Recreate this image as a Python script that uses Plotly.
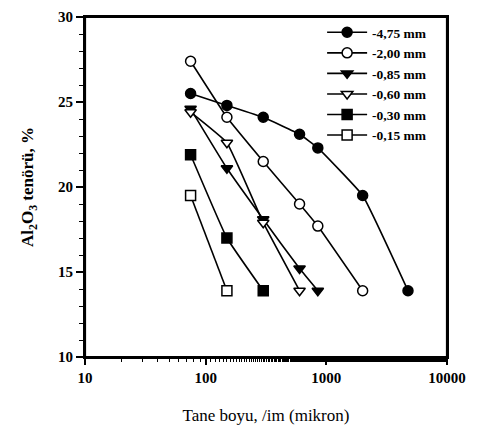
import plotly.graph_objects as go

# Data (particle size in micron, Al2O3 content in %)
sizes_475 = [75, 150, 300, 600, 850, 2000, 4750]
vals_475 = [25.5, 24.8, 24.1, 23.1, 22.3, 19.5, 13.9]

sizes_200 = [75, 150, 300, 600, 850, 2000]
vals_200 = [27.4, 24.1, 21.5, 19.0, 17.7, 13.9]

sizes_085 = [75, 150, 300, 600, 850]
vals_085 = [24.6, 21.1, 18.1, 15.2, 13.9]

sizes_060 = [75, 150, 300, 600]
vals_060 = [24.4, 22.6, 17.9, 13.9]

sizes_030 = [75, 150, 300]
vals_030 = [21.9, 17.0, 13.9]

sizes_015 = [75, 150]
vals_015 = [19.5, 13.9]

series_names = ["-4,75 mm", "-2,00 mm", "-0,85 mm", "-0,60 mm", "-0,30 mm", "-0,15 mm"]
x_tick_vals = [10, 100, 1000, 10000]
x_tick_text = ["10", "100", "1000", "10000"]
y_tick_vals = [10, 15, 20, 25, 30]

series = [
    (sizes_475, vals_475, "circle", "black"),
    (sizes_200, vals_200, "circle", "white"),
    (sizes_085, vals_085, "triangle-down", "black"),
    (sizes_060, vals_060, "triangle-down", "white"),
    (sizes_030, vals_030, "square", "black"),
    (sizes_015, vals_015, "square", "white"),
]

fig = go.Figure()
for (xs, ys, sym, fill), name in zip(series, series_names):
    fig.add_trace(go.Scatter(
        x=xs, y=ys, name=name, mode="lines+markers",
        line=dict(color="black", width=1.6, shape="spline", smoothing=0.3),
        marker=dict(symbol=sym, size=10, color=fill,
                    line=dict(color="black", width=1.5)),
    ))

frame = dict(color="black", width=2.2)
fig.update_layout(
    width=479, height=443,
    margin=dict(l=77, r=40, t=9, b=94),
    plot_bgcolor="white", paper_bgcolor="white",
    font=dict(family="Liberation Serif", color="black"),
    showlegend=True,
    legend=dict(x=0.655, y=1.0, xanchor="left", yanchor="top",
                bgcolor="rgba(0,0,0,0)", borderwidth=0,
                font=dict(family="Liberation Serif", size=13.5, color="black", weight="bold"),
                tracegroupgap=0, itemwidth=40),
    shapes=[
        dict(type="line", xref="x domain", yref="y domain", x0=0, x1=0, y0=0, y1=1, line=frame, layer="below"),
        dict(type="line", xref="x domain", yref="y domain", x0=1, x1=1, y0=0, y1=1, line=frame, layer="below"),
        dict(type="line", xref="x domain", yref="y domain", x0=0, x1=1, y0=0, y1=0, line=frame, layer="below"),
        dict(type="line", xref="x domain", yref="y domain", x0=0, x1=1, y0=1, y1=1, line=frame, layer="below"),
    ],
    xaxis=dict(
        type="log", range=[1, 4], automargin=False, layer="below traces",
        tickvals=x_tick_vals, ticktext=x_tick_text,
        ticks="outside", ticklen=6, tickwidth=1.5, tickcolor="black",
        minor=dict(ticks="outside", ticklen=3, tickwidth=1.2, tickcolor="black", showgrid=False),
        showline=True, linecolor="black", linewidth=2, mirror=True,
        showgrid=False, zeroline=False,
        tickfont=dict(family="Liberation Serif", size=15, color="black", weight="bold"),
        title=dict(text="Tane boyu, /im (mikron)", standoff=24,
                   font=dict(family="Liberation Serif", size=17, color="black")),
    ),
    yaxis=dict(
        range=[10, 30], automargin=False, layer="below traces",
        tickvals=y_tick_vals,
        ticks="outside", ticklen=7, tickwidth=1.5, tickcolor="black",
        minor=dict(dtick=1, ticks="outside", ticklen=4, tickwidth=1.2, tickcolor="black", showgrid=False),
        showline=True, linecolor="black", linewidth=2, mirror=True,
        showgrid=False, zeroline=False,
        tickfont=dict(family="Liberation Serif", size=15, color="black", weight="bold"),
        title=dict(text="<b>Al<sub>2</sub>O<sub>3</sub> tenörü, %</b>", standoff=20,
                   font=dict(family="Liberation Serif", size=17, color="black")),
    ),
)

fig.write_html("out.html")
